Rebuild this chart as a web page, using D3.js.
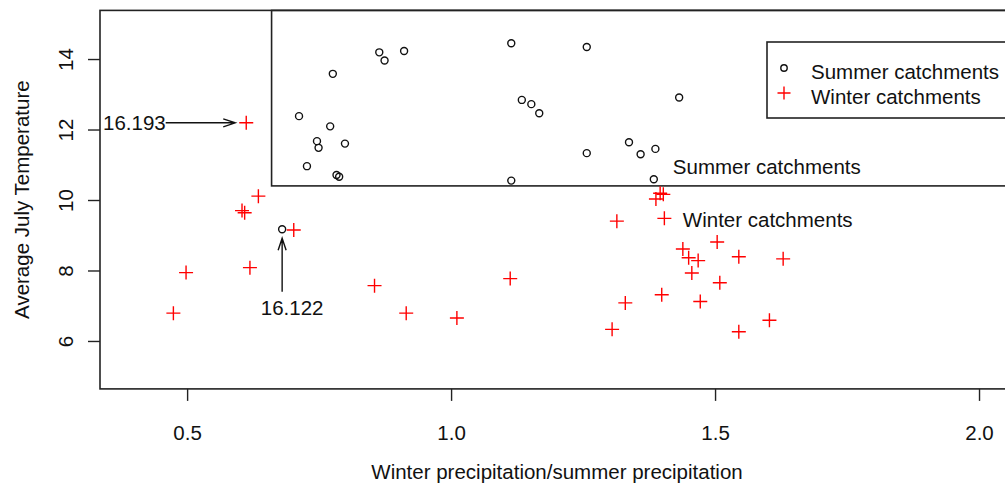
<!DOCTYPE html>
<html><head><meta charset="utf-8">
<script src="https://cdn.jsdelivr.net/npm/d3@7"></script>
<style>
html,body{margin:0;padding:0;background:#fff;}
svg{display:block;font-family:"Liberation Sans",Arial,sans-serif;}
</style></head>
<body><svg id="c" width="1005" height="488"></svg>
<script>
// Summer catchments (circles)
const summerX = [0.712,0.776,0.864,0.874,0.911,1.114,1.257,0.771,0.746,0.749,0.799,0.727,0.783,0.788,1.134,1.152,1.167,1.114,1.432,1.257,1.337,1.359,1.387,1.384,0.680];
const summerY = [12.38,13.58,14.19,13.96,14.23,14.45,14.34,12.09,11.67,11.48,11.60,10.96,10.71,10.66,12.84,12.72,12.46,10.55,12.91,11.33,11.64,11.30,11.45,10.59,9.17];
// Winter catchments (plus)
const winterX = [0.612,0.635,0.604,0.609,0.702,0.498,0.619,0.474,0.855,0.915,1.011,1.112,1.396,1.402,1.388,1.314,1.404,1.504,1.439,1.450,1.468,1.545,1.629,1.456,1.509,1.399,1.330,1.472,1.305,1.545,1.603];
const winterY = [12.19,10.11,9.70,9.64,9.15,7.94,8.08,6.79,7.57,6.79,6.65,7.77,10.19,10.16,10.03,9.40,9.48,8.81,8.61,8.36,8.28,8.39,8.33,7.93,7.65,7.31,7.08,7.12,6.33,6.26,6.59];
const xTicks = [0.5,1.0,1.5,2.0];
const yTicks = [6,8,10,12,14];
const xTickLabels = ["0.5","1.0","1.5","2.0"];
const yTickLabels = ["6","8","10","12","14"];
const xLim = [0.335, 2.06];
const yLim = [4.64, 15.38];
// Summer catchment region (data coords)
const regionX = [0.66, 2.2];
const regionY = [10.40, 15.38];
// point labels
const pointLabels = [
  {text:"16.193", px:0.612, py:12.19, lx:0.335, ly:12.19, dir:"h"},
  {text:"16.122", px:0.680, py:9.17, lx:0.680, ly:6.94, dir:"v"}
];
const groupLabels = [
  {text:"Summer catchments", x:1.42, y:10.94},
  {text:"Winter catchments", x:1.439, y:9.43}
];
const legendItems = ["Summer catchments","Winter catchments"];

const svg = d3.select("#c");
const L = 100, R = 1010.7, T = 10.4, B = 388.9;
const x = d3.scaleLinear().domain(xLim).range([L, R]);
const y = d3.scaleLinear().domain(yLim).range([B, T]);
const ink = "#222", red = "#ff0000", FS = 20.5;

// plot box
svg.append("rect").attr("x",L).attr("y",T).attr("width",R-L).attr("height",B-T)
  .attr("fill","none").attr("stroke",ink).attr("stroke-width",1.6);

// axes
const xa = svg.append("g").attr("transform",`translate(0,${B})`)
  .call(d3.axisBottom(x).tickValues(xTicks).tickSize(12).tickFormat((d,i)=>xTickLabels[i]));
xa.select(".domain").remove();
xa.selectAll("line").attr("stroke",ink).attr("stroke-width",1.4);
xa.selectAll("text").attr("font-size",FS).attr("fill","#111").attr("font-family","Liberation Sans, Arial, sans-serif").attr("y",44).attr("dy","0.36em");

const ya = svg.append("g").attr("transform",`translate(${L},0)`)
  .call(d3.axisLeft(y).tickValues(yTicks).tickSize(12).tickFormat((d,i)=>yTickLabels[i]));
ya.select(".domain").remove();
ya.selectAll("line").attr("stroke",ink).attr("stroke-width",1.4);
ya.selectAll("text").attr("font-size",FS).attr("fill","#111").attr("font-family","Liberation Sans, Arial, sans-serif")
  .attr("x",null).attr("dy","0.36em").attr("text-anchor","middle")
  .attr("transform","translate(-34,0) rotate(-90)");

// axis titles
svg.append("text").attr("x",557).attr("y",472).attr("dy","0.36em").attr("text-anchor","middle")
  .attr("font-size",FS).attr("fill","#111")
  .text("Winter precipitation/summer precipitation");
svg.append("text").attr("transform",`translate(22,${(T+B)/2}) rotate(-90)`).attr("text-anchor","middle")
  .attr("dy","0.36em").attr("font-size",FS).attr("fill","#111")
  .text("Average July Temperature");

// summer region rectangle
svg.append("rect").attr("x",x(regionX[0])).attr("y",y(regionY[1])).attr("width",x(regionX[1])-x(regionX[0]))
  .attr("height",y(regionY[0])-y(regionY[1])).attr("fill","none").attr("stroke",ink).attr("stroke-width",1.6);

// points
const summer = summerX.map((v,i)=>({x:v,y:summerY[i]}));
const winter = winterX.map((v,i)=>({x:v,y:winterY[i]}));
const P = 7;
svg.append("g").selectAll("path").data(winter).join("path")
  .attr("d",d=>`M${x(d.x)-P},${y(d.y)}H${x(d.x)+P}M${x(d.x)},${y(d.y)-P}V${y(d.y)+P}`)
  .attr("stroke",red).attr("stroke-width",1.4).attr("fill","none");
svg.append("g").selectAll("circle").data(summer).join("circle")
  .attr("cx",d=>x(d.x)).attr("cy",d=>y(d.y)).attr("r",3.5)
  .attr("fill","none").attr("stroke","#111").attr("stroke-width",1.4);

// group labels
svg.append("g").selectAll("text").data(groupLabels).join("text")
  .attr("x",d=>x(d.x)).attr("y",d=>y(d.y)).attr("dy","0.36em")
  .attr("font-size",FS).attr("fill","#111").text(d=>d.text);

// point labels with arrows
pointLabels.forEach(p=>{
  const g = svg.append("g");
  if (p.dir==="h"){
    const t = g.append("text").attr("x",x(p.lx)+3).attr("y",y(p.ly)).attr("dy","0.36em")
      .attr("font-size",FS).attr("fill","#111").text(p.text);
    const x0 = x(p.lx)+3+t.node().getComputedTextLength(), x1 = x(p.px)-11, yy = y(p.py);
    g.append("path").attr("d",`M${x0},${yy}H${x1}M${x1-12},${yy-4}L${x1},${yy}L${x1-12},${yy+4}`)
      .attr("stroke","#111").attr("stroke-width",1.4).attr("fill","none");
  } else {
    g.append("text").attr("x",x(p.lx)+10).attr("y",y(p.ly)).attr("text-anchor","middle").attr("dy","0.36em")
      .attr("font-size",FS).attr("fill","#111").text(p.text);
    const xx = x(p.px), y0 = y(p.ly)-16, y1 = y(p.py)+9;
    g.append("path").attr("d",`M${xx},${y0}V${y1}M${xx-4},${y1+12}L${xx},${y1}L${xx+4},${y1+12}`)
      .attr("stroke","#111").attr("stroke-width",1.4).attr("fill","none");
  }
});

// legend
const lg = svg.append("g").attr("transform","translate(767,42)");
lg.append("rect").attr("x",0).attr("y",0).attr("width",260).attr("height",76)
  .attr("fill","white").attr("stroke",ink).attr("stroke-width",1.6);
legendItems.forEach((t,i)=>{
  const yy = 30 + i*25;
  if(i===0) lg.append("circle").attr("cx",17).attr("cy",yy-4).attr("r",3.2).attr("fill","none").attr("stroke","#111").attr("stroke-width",1.4);
  else lg.append("path").attr("d",`M${17-6.5},${yy-4}H${17+6.5}M17,${yy-4-6.5}V${yy-4+6.5}`).attr("stroke",red).attr("stroke-width",1.4);
  lg.append("text").attr("x",44).attr("y",yy).attr("dy","0.36em").attr("font-size",FS).attr("fill","#111").text(t);
});
</script></body></html>
